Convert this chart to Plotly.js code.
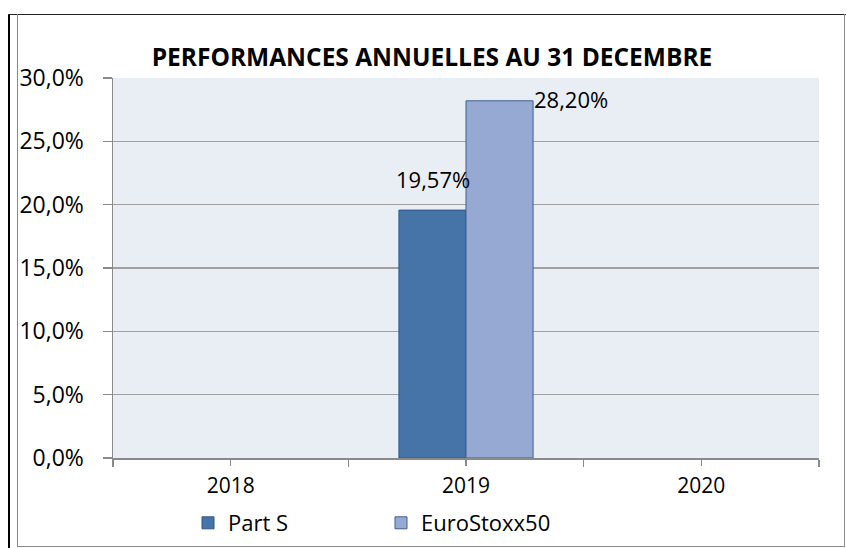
<!DOCTYPE html>
<html><head><meta charset="utf-8">
<script src="https://cdn.plot.ly/plotly-3.0.1.min.js"></script>
<style>
html,body{margin:0;padding:0;background:#fff;overflow:hidden;}
#wrap{position:relative;width:846px;height:548px;overflow:hidden;}
#chart{position:absolute;left:0;top:0;width:846px;height:548px;}
.ln{position:absolute;pointer-events:none;}
</style></head>
<body><div id="wrap"><div id="chart"></div>
<div class="ln" style="left:8px;top:14px;width:2px;height:534px;background:#000"></div>
<div class="ln" style="left:8px;top:14px;width:838px;height:1px;background:#222"></div>
<div class="ln" style="left:17px;top:14px;width:1px;height:533px;background:#8a8a8a"></div>
<div class="ln" style="left:844px;top:14px;width:1px;height:533px;background:#8a8a8a"></div>
<div class="ln" style="left:17px;top:546px;width:828px;height:1px;background:#8a8a8a"></div>
</div>
<script>
const categories = ['2018','2019','2020'];
const partS = [null, 0.1957, null];
const euroStoxx = [null, 0.2820, null];
const seriesNames = ['Part S','EuroStoxx50'];

const FONT = 'Open Sans, Liberation Sans, sans-serif';
const fmt = v => (v*100).toFixed(2).replace('.',',')+'%';
const traces = [
  {type:'bar', name:seriesNames[0], x:categories, y:partS,
   marker:{color:'#4674A8', line:{color:'#2F5485', width:1}},
   textposition:'none', xaxis:'x', yaxis:'y'},
  {type:'bar', name:seriesNames[1], x:categories, y:euroStoxx,
   marker:{color:'#95A9D3', line:{color:'#3C6193', width:1}},
   textposition:'none', xaxis:'x', yaxis:'y'},
  {type:'scatter', mode:'markers', x:categories, y:[null,null,null], showlegend:false,
   xaxis:'x2', yaxis:'y', hoverinfo:'skip'}
];

const annotations = [];
categories.forEach((c,i)=>{
  if (partS[i] != null) {
    annotations.push({x:i, y:partS[i], xref:'x', yref:'y', text:fmt(partS[i]),
      showarrow:false, xanchor:'center', yanchor:'bottom', xshift:-33, yshift:14,
      font:{family:FONT, size:22, color:'#000'}});
  }
  if (euroStoxx[i] != null) {
    annotations.push({x:i, y:euroStoxx[i], xref:'x', yref:'y', text:fmt(euroStoxx[i]),
      showarrow:false, xanchor:'left', yanchor:'middle', xshift:66, yshift:2,
      font:{family:FONT, size:22, color:'#000'}});
  }
});

const layout = {
  width:846, height:548,
  margin:{l:113, r:27, t:78, b:90},
  paper_bgcolor:'#fff', plot_bgcolor:'#E9EDF4',
  separators:', ',
  title:{text:'<b>PERFORMANCES ANNUELLES AU 31 DECEMBRE</b>', x:432/846, xanchor:'center', y:1-57/548, yanchor:'middle',
    font:{family:FONT, size:24.5, color:'#000'}},
  barmode:'group', bargap:0.43, bargroupgap:0,
  xaxis:{type:'category', categoryarray:categories, range:[-0.5,2.5],
    showgrid:false, showline:true, linecolor:'#8a8a8a', linewidth:1.5,
    ticks:'outside', tickson:'boundaries', ticklen:7, tickcolor:'#8a8a8a', tickwidth:1.5,
    ticklabelstandoff:8,
    tickfont:{family:FONT, size:21, color:'#000'}, zeroline:false, fixedrange:true},
  xaxis2:{type:'category', categoryarray:categories, range:[-0.5,2.5], overlaying:'x',
    showgrid:false, showline:false, ticks:'outside', ticklen:7, tickcolor:'#8a8a8a', tickwidth:1.5,
    showticklabels:false, side:'bottom', zeroline:false},
  yaxis:{range:[0,0.30], dtick:0.05, tickformat:'.1%', showgrid:true, gridcolor:'#A0A0A0', gridwidth:1.5,
    showline:true, linecolor:'#8a8a8a', linewidth:1.5, ticks:'outside', ticklen:9, tickcolor:'#8a8a8a', tickwidth:1.5,
    ticklabelstandoff:14,
    tickfont:{family:FONT, size:23, color:'#000'}, zeroline:false},
  legend:{orientation:'h', x:(188-113)/706, xanchor:'left', y:1-523/548, yref:'container', yanchor:'middle',
    font:{family:FONT, size:22, color:'#000'}, itemwidth:30, entrywidth:148, entrywidthmode:'pixels', traceorder:'normal'},
  annotations:annotations,
  showlegend:true
};
Plotly.newPlot('chart', traces, layout, {displayModeBar:false, staticPlot:true});
</script></body></html>
